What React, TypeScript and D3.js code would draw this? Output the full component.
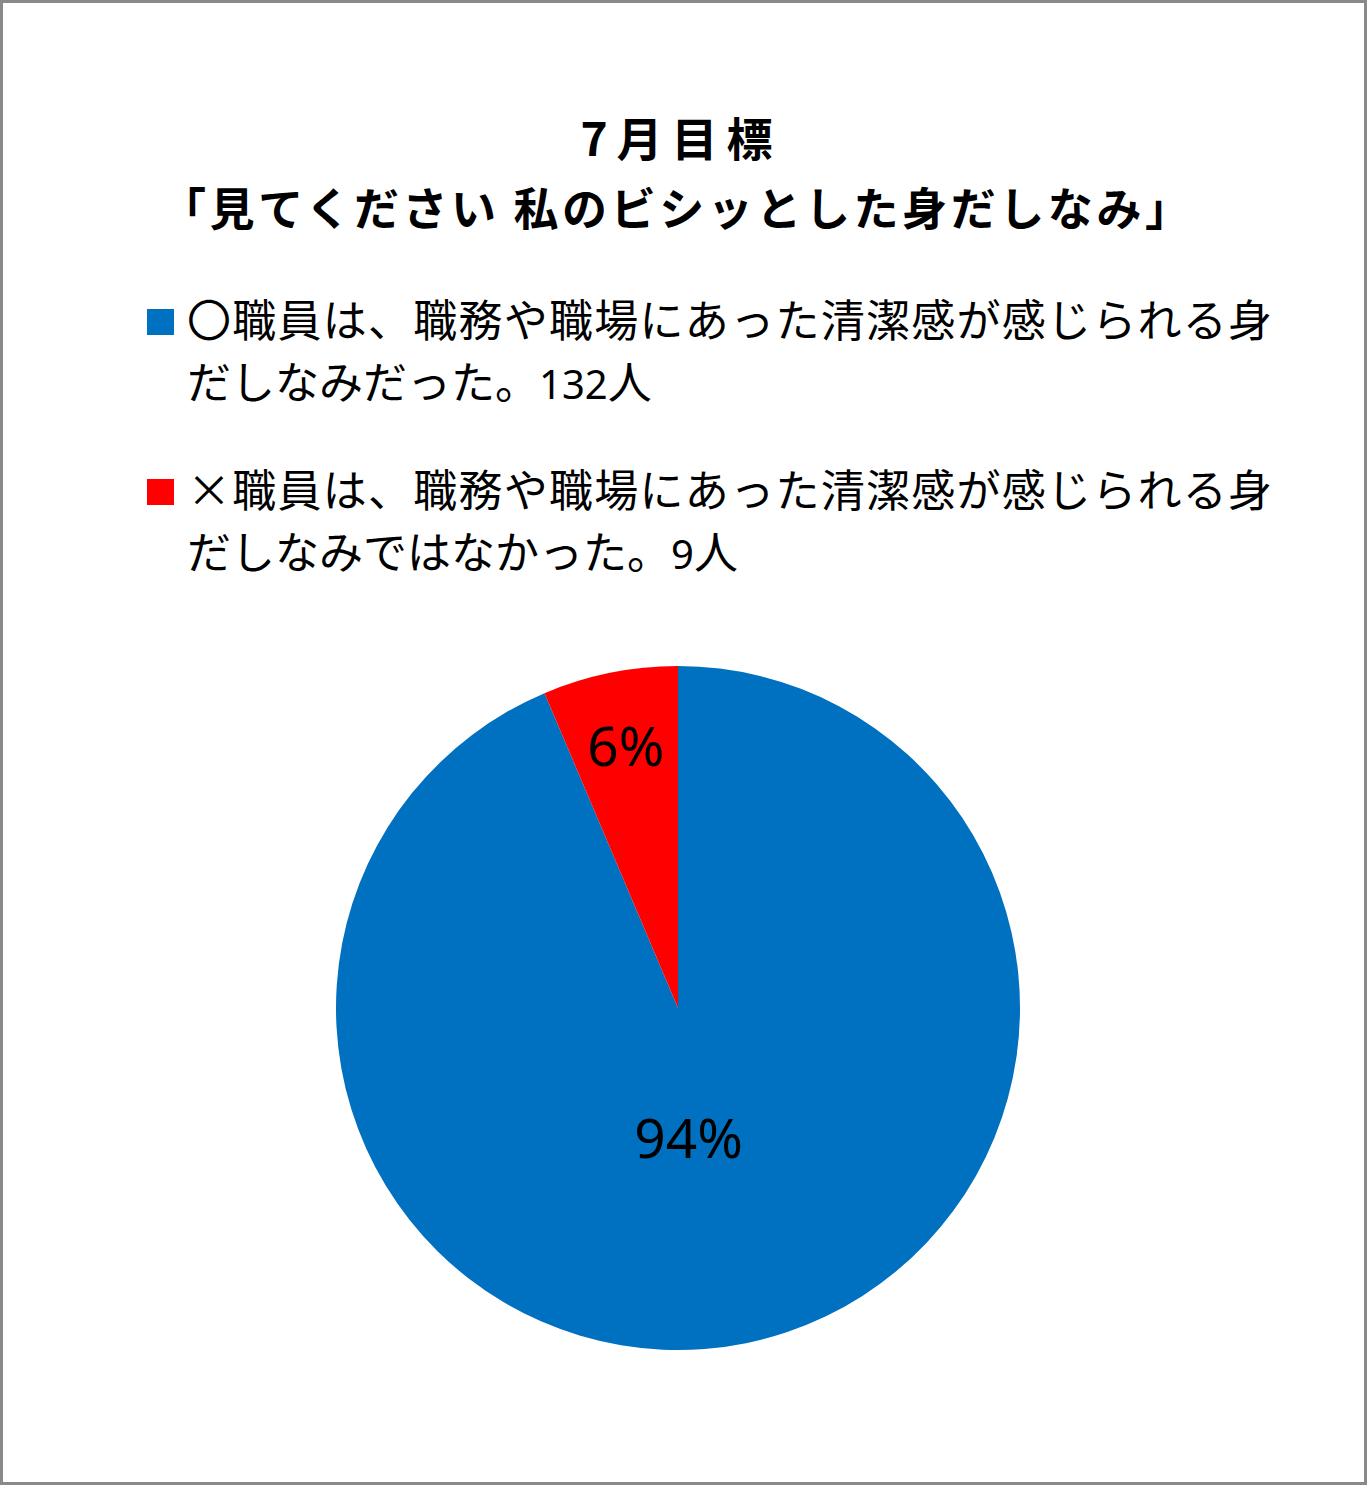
import React from "react";
import * as d3 from "d3";

const categories = ["〇", "×"];
const values = [132, 9];
const colors = ["#0070C0", "#FF0000"];
const legendLine1 = [
  "〇職員は、職務や職場にあった清潔感が感じられる身",
  "×職員は、職務や職場にあった清潔感が感じられる身",
];
const legendLine2Text = ["だしなみだった。", "だしなみではなかった。"];
const legendLine2Num = ["132", "9"];
const legendLine2Unit = ["人", "人"];
const titleLines = ["7月目標", "「見てください 私のビシッとした身だしなみ」"];

const W = 1367;
const H = 1485;
const cx = 678;
const cy = 1008;
const R = 342;
const labelFactor = [0.39, 0.78];
const labelDx = [-16, 1];

export default function App() {
  const total = d3.sum(values);
  const pie = d3
    .pie<number>()
    .sort(null)
    .startAngle(0)
    .endAngle(2 * Math.PI)
    .value((d) => d);
  const arcs = pie(values);
  const arcGen = d3.arc<d3.PieArcDatum<number>>().innerRadius(0).outerRadius(R);
  const fmt = d3.format(".0%");
  const jp = "'Noto Sans CJK JP', 'Noto Sans', sans-serif";

  return (
    <div style={{ position: "absolute", left: 0, top: 0 }}>
      <svg width={W} height={H} style={{ display: "block" }}>
        <rect x={0} y={0} width={W} height={H} fill="#fff" />
        <rect x={1.5} y={1.5} width={W - 3} height={H - 3} fill="none" stroke="#898989" strokeWidth={3} />
        <text x={681} y={156} textAnchor="middle" fontFamily={jp} fontWeight="bold" fontSize={46} letterSpacing={9}>
          {titleLines[0]}
        </text>
        <text
          x={161}
          y={226}
          fontFamily={jp}
          fontWeight="bold"
          fontSize={45}
          textLength={1029}
          lengthAdjust="spacing"
        >
          {titleLines[1]}
        </text>
        {categories.map((c, i) => {
          const y0 = 337 + i * 170;
          return (
            <g key={c}>
              <rect x={147} y={y0 - 28} width={27} height={26} fill={colors[i]} />
              <text
                x={187}
                y={y0}
                fontFamily={jp}
                fontSize={44}
                fill="#000"
                textLength={1085}
                lengthAdjust="spacing"
              >
                {legendLine1[i]}
              </text>
              <text x={187} y={y0 + 62} fontFamily={jp} fontSize={44} fill="#000">
                {legendLine2Text[i]}
                <tspan fontFamily="'Noto Sans', sans-serif" fontSize={40}>
                  {legendLine2Num[i]}
                </tspan>
                {legendLine2Unit[i]}
              </text>
            </g>
          );
        })}
        <g transform={`translate(${cx},${cy})`}>
          {arcs.map((a, i) => (
            <path key={i} d={arcGen(a) || ""} fill={colors[i]} />
          ))}
          {arcs.map((a, i) => {
            const mid = (a.startAngle + a.endAngle) / 2;
            const r = R * labelFactor[i];
            const x = Math.sin(mid) * r + labelDx[i];
            const y = -Math.cos(mid) * r;
            return (
              <text
                key={"l" + i}
                x={x}
                y={y + 19}
                textAnchor="middle"
                fontFamily="'Noto Sans', sans-serif"
                fontSize={55}
                fill="#000"
              >
                {fmt(a.data / total)}
              </text>
            );
          })}
        </g>
      </svg>
    </div>
  );
}
